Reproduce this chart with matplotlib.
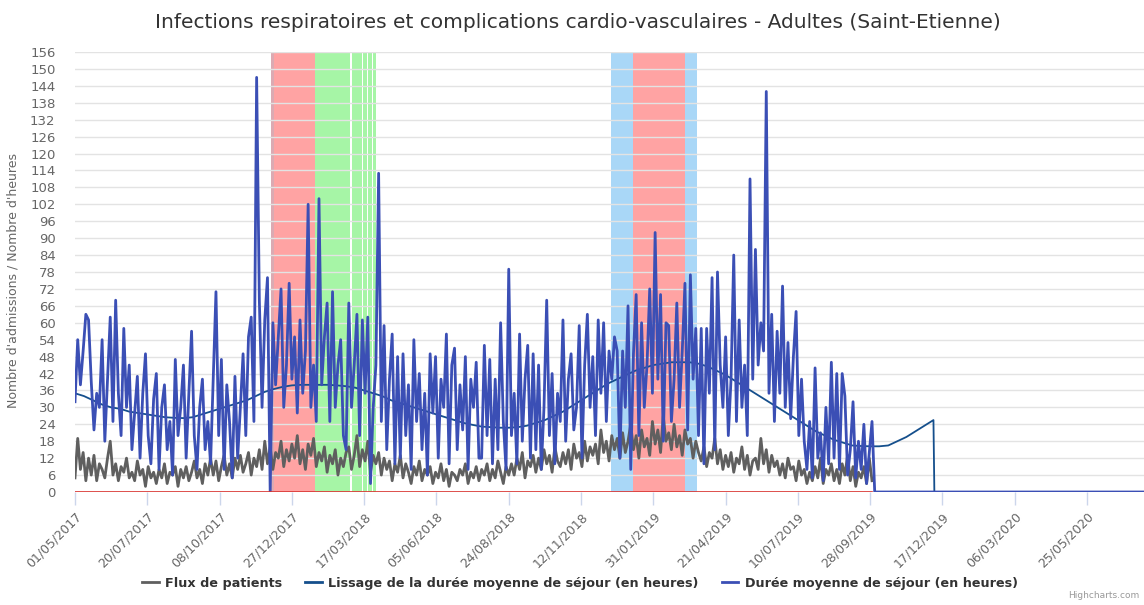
import numpy as np
import matplotlib
matplotlib.use("Agg")
import matplotlib.pyplot as plt
import matplotlib.dates as mdates
from matplotlib.lines import Line2D

# --- data -------------------------------------------------------------
START = np.datetime64("2017-05-01")
AXIS_END = START + np.timedelta64(1183, "D")
STEP_DAYS = 3      # one reading every 3 days
SMOOTH_STEP = 10   # smoothing read every 10 days

# Flux de patients (admissions), read every 3 days
flux = [
    5, 19, 8, 14, 4, 12, 6, 13, 4, 10,
    8, 5, 12, 18, 6, 10, 4, 9, 7, 12,
    5, 7, 4, 11, 6, 8, 2, 9, 5, 7,
    3, 8, 5, 10, 3, 7, 6, 9, 2, 8,
    5, 9, 4, 7, 11, 5, 8, 3, 10, 6,
    12, 6, 11, 4, 9, 13, 6, 10, 5, 12,
    8, 13, 7, 10, 14, 6, 12, 9, 15, 8,
    18, 10, 16, 8, 14, 12, 18, 9, 15, 11,
    17, 12, 20, 10, 15, 8, 17, 13, 19, 9,
    14, 11, 16, 7, 13, 10, 15, 6, 12, 9,
    14, 16, 8, 13, 20, 9, 15, 11, 18, 7,
    13, 10, 14, 6, 12, 8, 11, 4, 10, 7,
    13, 5, 10, 7, 3, 9, 6, 11, 4, 8,
    6, 9, 3, 7, 5, 10, 4, 8, 2, 7,
    6, 4, 8, 6, 10, 3, 7, 5, 9, 4,
    8, 6, 10, 4, 8, 5, 11, 7, 3, 9,
    6, 10, 6, 12, 8, 14, 5, 11, 9, 13,
    7, 12, 8, 15, 10, 13, 7, 16, 11, 9,
    14, 10, 15, 8, 17, 12, 14, 9, 18, 11,
    16, 13, 17, 10, 22, 14, 18, 11, 20, 15,
    19, 12, 21, 14, 18, 24, 15, 20, 12, 22,
    16, 19, 13, 25, 17, 22, 14, 27, 18, 21,
    15, 24, 16, 20, 13, 22, 17, 19, 12, 18,
    14, 11, 16, 9, 14, 12, 19, 10, 15, 8,
    13, 9, 14, 7, 12, 10, 16, 8, 13, 6,
    11, 12, 8, 19, 10, 15, 7, 13, 9, 11,
    6, 10, 5, 12, 8, 9, 4, 11, 6, 8,
    3, 7, 4, 9, 5, 12, 3, 8, 6, 10,
    4, 8, 3, 10, 6, 13, 4, 9, 2, 7,
    5, 9, 3, 12, 4,
]

# Durée moyenne de séjour (heures), read every 3 days
duree = [
    32, 54, 38, 50, 63, 61, 39, 22, 35, 30,
    54, 18, 40, 62, 25, 68, 35, 20, 58, 30,
    45, 15, 28, 41, 12, 35, 49, 20, 10, 33,
    42, 8, 30, 38, 15, 25, 6, 47, 20, 30,
    45, 12, 35, 57, 20, 8, 30, 40, 15, 25,
    10, 40, 71, 20, 47, 8, 38, 25, 5, 41,
    12, 30, 49, 20, 55, 62, 25, 147, 68, 30,
    61, 76, 0, 60, 38, 55, 72, 30, 45, 74,
    40, 55, 28, 61, 35, 50, 102, 30, 45, 25,
    104, 38, 55, 67, 25, 71, 30, 45, 54, 20,
    15, 67, 30, 45, 63, 20, 61, 35, 62, 3,
    30, 45, 113, 25, 59, 15, 40, 56, 10, 48,
    12, 49, 20, 38, 8, 54, 25, 42, 15, 35,
    6, 49, 28, 48, 12, 40, 30, 56, 10, 45,
    51, 15, 38, 22, 48, 8, 40, 30, 46, 12,
    12, 52, 20, 47, 10, 40, 15, 60, 25, 8,
    79, 20, 35, 10, 56, 18, 40, 52, 12, 49,
    15, 45, 8, 30, 68, 20, 42, 10, 35, 25,
    61, 18, 40, 49, 22, 30, 59, 12, 45, 63,
    30, 48, 20, 61, 35, 60, 25, 50, 40, 55,
    50, 12, 50, 30, 66, 8, 49, 70, 20, 60,
    30, 45, 72, 35, 92, 40, 70, 18, 60, 59,
    25, 40, 67, 30, 50, 74, 22, 77, 40, 58,
    20, 58, 10, 58, 35, 76, 15, 78, 45, 30,
    55, 20, 40, 84, 25, 61, 30, 45, 20, 111,
    40, 86, 45, 60, 50, 142, 35, 63, 25, 57,
    35, 73, 30, 53, 26, 48, 64, 20, 40, 18,
    8, 25, 5, 44, 12, 21, 4, 30, 10, 46,
    12, 42, 8, 42, 34, 6, 15, 32, 5, 18,
    8, 24, 3, 14, 25, 0,
]

# Lissage de la durée moyenne (heures), read every 10 days
lissage = [
    35, 34, 32.5, 31, 30, 29.5, 28.5, 28, 27.5, 27,
    26.5, 26.3, 26.2, 26.5, 27.5, 28.5, 29.5, 30.5, 31.5, 32.5,
    34, 35.5, 36.5, 37.3, 37.8, 38, 38, 38, 38, 37.8,
    37.5, 37, 36, 35, 34, 32.5, 31.5, 30.5, 29.5, 28.5,
    27.5, 26.5, 25.5, 24.5, 23.8, 23.2, 23, 22.8, 22.8, 23,
    23.5, 24.5, 25.5, 27, 28.5, 30.5, 32.5, 34.5, 36.5, 38.5,
    40, 41.5, 43, 44, 45, 45.5, 46, 46, 46, 45.5,
    44.5, 43, 41.5, 39.5, 37.5, 35.5, 33.5, 31.5, 29.5, 27.5,
    25.5, 23.5, 21.5, 20, 18.5, 17.5, 16.5, 16.3, 16.2, 16.2,
    16.5, 18, 19.5, 21.5, 23.5, 25.5,
]

# Shaded periods (start, end)
bands_red = [("2017-12-07", "2018-01-22"), ("2019-01-09", "2019-03-07")]
bands_greypink = [("2017-12-04", "2017-12-07")]
bands_green = [("2018-01-22", "2018-03-01"), ("2018-03-03", "2018-03-15"),
               ("2018-03-16", "2018-03-20"), ("2018-03-21", "2018-03-26"),
               ("2018-03-27", "2018-03-30")]
bands_blue = [("2018-12-15", "2019-01-09"), ("2019-03-07", "2019-03-20")]

TITLE = "Infections respiratoires et complications cardio-vasculaires - Adultes (Saint-Etienne)"
YLABEL = "Nombre d'admissions / Nombre d'heures"
LABELS = ["Flux de patients",
          "Lissage de la durée moyenne de séjour (en heures)",
          "Durée moyenne de séjour (en heures)"]

# --- styling ----------------------------------------------------------
C_FLUX = "#5f5f5f"
C_LISS = "#154f8c"
C_DUREE = "#3b4fb5"
C_TEXT = "#666666"

flux_x = START + np.arange(len(flux)) * np.timedelta64(STEP_DAYS, "D")
duree_x = START + np.arange(len(duree)) * np.timedelta64(STEP_DAYS, "D")
liss_x = START + np.arange(len(lissage)) * np.timedelta64(SMOOTH_STEP, "D")
liss_end = liss_x[-1] + np.timedelta64(1, "D")

fig = plt.figure(figsize=(11.44, 6.05), dpi=100)
ax = fig.add_axes([75 / 1144, 113 / 605, 1069 / 1144, 440 / 605])

def d(s):
    return np.datetime64(s)

for lst, col in [(bands_red, "#ffa3a3"), (bands_greypink, "#dcaab2"),
                 (bands_green, "#a6f5a6"), (bands_blue, "#a9d7f7")]:
    for a, b in lst:
        ax.axvspan(d(a), d(b), color=col, lw=0, zorder=0.2)

ax.set_axisbelow(True)
ax.yaxis.grid(True, color="#e3e3e3", lw=1)

ax.plot(flux_x, flux, color=C_FLUX, lw=2.0, zorder=2)
ax.plot(np.append(liss_x, [liss_end, AXIS_END]),
        np.append(lissage, [0, 0]), color=C_LISS, lw=1.3, zorder=3)
ax.plot(np.append(duree_x, AXIS_END), np.append(duree, 0),
        color=C_DUREE, lw=2.0, zorder=4)
# zero baseline (red) under the observed period
ax.plot([START, flux_x[-1]], [0, 0], color="#d9322f", lw=1.2, zorder=5)

ax.set_xlim(START, AXIS_END)
ax.set_ylim(0, 156)
ax.set_yticks(np.arange(0, 157, 6))

ticks = START + np.arange(15) * np.timedelta64(80, "D")
ax.set_xticks(ticks)
ax.xaxis.set_major_formatter(mdates.DateFormatter("%d/%m/%Y"))
for lab in ax.get_xticklabels():
    lab.set_rotation(45)
    lab.set_ha("right")
    lab.set_rotation_mode("anchor")

ax.tick_params(axis="x", colors="#ccd6eb", length=9, width=1,
               labelcolor=C_TEXT, labelsize=9, pad=4)
ax.tick_params(axis="y", length=0, labelcolor=C_TEXT, labelsize=9.5, pad=14)
for s in ax.spines.values():
    s.set_visible(False)

ax.set_ylabel(YLABEL, color=C_TEXT, fontsize=9, labelpad=4)
ax.yaxis.set_label_coords(-0.052, 0.48)

fig.text(0.505, 0.963, TITLE, ha="center", va="center",
         fontsize=14.5, color="#333333")

handles = [Line2D([], [], color=c, lw=2) for c in (C_FLUX, C_LISS, C_DUREE)]
fig.legend(handles, LABELS, loc="center", bbox_to_anchor=(0.507, 0.036),
           ncol=3, frameon=False, handlelength=1.3, handletextpad=0.5,
           columnspacing=1.8,
           prop={"family": "DejaVu Sans", "weight": "bold", "size": 9.2},
           labelcolor="#333333")

fig.text(0.934, 0.008, "Highcharts.com", fontsize=6.5, color="#999999",
         ha="left", va="bottom")

fig.savefig("out.png", dpi=100)
